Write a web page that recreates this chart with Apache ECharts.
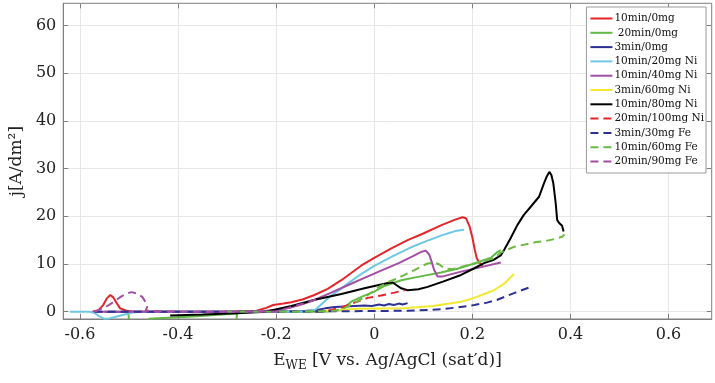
<!DOCTYPE html>
<html><head><meta charset="utf-8">
<script src="https://cdn.jsdelivr.net/npm/echarts@6/dist/echarts.min.js"></script>
<style>html,body{margin:0;padding:0;background:#fff}#c{width:715px;height:383px}</style>
</head><body><div id="c"></div>
<script>
// ---- tick labels ----
const xTicks = [-0.6, -0.4, -0.2, 0, 0.2, 0.4, 0.6];
const yTicks = [0, 10, 20, 30, 40, 50, 60];

// ---- series names ----
const names = ['10min/0mg', ' 20min/0mg', '3min/0mg', '10min/20mg Ni', '10min/40mg Ni', '3min/60mg Ni',
  '10min/80mg Ni', '20min/100mg Ni', '3min/30mg Fe', '10min/60mg Fe', '20min/90mg Fe'];

// ---- series values [E, j] (null = gap) ----
const red10_0 = [[-0.575,0],[-0.562,0.3],[-0.552,1.5],[-0.545,2.8],[-0.538,3.5],[-0.532,3.0],[-0.525,1.8],[-0.518,0.7],[-0.505,0.2],[-0.49,0],[-0.4,0],[-0.3,0],[-0.24,0.2],[-0.22,0.8],[-0.206,1.4],[-0.185,1.7],[-0.169,2.0],[-0.145,2.6],[-0.122,3.5],[-0.095,4.8],[-0.067,6.6],[-0.047,8.1],[-0.026,9.7],[0,11.3],[0.034,13.2],[0.068,15.0],[0.1,16.4],[0.136,18.1],[0.165,19.3],[0.18,19.8],[0.187,19.6],[0.194,18.0],[0.2,15.6],[0.205,13.0],[0.209,11.2],[0.214,10.3],[0.221,9.6]];
const green20_0 = [[-0.502,0],[-0.5,-1.5],null,[-0.46,-1.5],[-0.37,-1.0],[-0.28,-0.4],null,[-0.281,-1.5],[-0.279,0],[-0.2,0],[-0.1,0],[-0.067,0.35],[-0.047,2.1],[-0.026,3.1],[0.0,4.2],[0.021,5.4],[0.055,6.6],[0.089,7.3],[0.136,8.2],[0.17,9.0],[0.204,10.1],[0.238,11.3],[0.251,12.5],[0.258,12.9]];
const navy3_0 = [[-0.55,0],[-0.45,0],[-0.35,0],[-0.25,0],[-0.15,0.1],[-0.12,0.3],[-0.1,0.7],[-0.08,1.0],[-0.06,1.1],[-0.04,1.2],[-0.02,1.3],[-0.005,1.2],[0.01,1.5],[0.02,1.3],[0.03,1.6],[0.04,1.4],[0.05,1.7],[0.058,1.5],[0.068,1.8]];
const cyan10_20 = [[-0.62,0],[-0.58,0],[-0.57,-0.3],[-0.56,-1.0],[-0.55,-1.5],[-0.54,-1.4],[-0.525,-1.0],[-0.505,-0.5],[-0.49,-0.1],[-0.47,0],[-0.3,0],[-0.15,0],[-0.12,0.4],[-0.105,1.8],[-0.09,3.2],[-0.07,4.6],[-0.05,6.2],[-0.025,8.0],[0,9.6],[0.041,11.8],[0.075,13.5],[0.109,14.9],[0.143,16.2],[0.165,16.9],[0.183,17.2]];
const purple10_40 = [[-0.57,0],[-0.4,0],[-0.25,0],[-0.23,0.1],[-0.2,0.4],[-0.169,0.9],[-0.145,1.6],[-0.121,2.5],[-0.09,3.9],[-0.053,5.6],[-0.02,7.1],[0.014,8.6],[0.05,10.2],[0.08,11.7],[0.095,12.5],[0.105,12.8],[0.112,12.0],[0.117,10.5],[0.122,8.8],[0.129,7.4],[0.14,7.4],[0.177,8.4],[0.22,9.4],[0.258,10.3]];
const yellow3_60 = [[-0.1,0.2],[-0.03,0.6],[0.06,0.7],[0.12,1.2],[0.177,2.1],[0.204,2.9],[0.244,4.5],[0.265,5.9],[0.285,7.9]];
const black10_80 = [[-0.416,-0.8],[-0.35,-0.6],[-0.28,-0.3],[-0.22,0],[-0.206,0.35],[-0.169,1.2],[-0.121,2.5],[-0.067,3.7],[-0.02,4.9],[0.014,5.7],[0.028,6.0],[0.038,6.1],[0.045,5.6],[0.055,4.9],[0.068,4.5],[0.09,4.7],[0.109,5.2],[0.14,6.3],[0.177,7.7],[0.2,8.9],[0.224,10.2],[0.244,10.9],[0.258,11.8],[0.265,13.0],[0.278,15.4],[0.292,18.2],[0.305,20.3],[0.319,22.0],[0.336,24.1],[0.346,26.9],[0.352,28.4],[0.357,29.3],[0.361,28.7],[0.365,27.0],[0.37,22.7],[0.373,19.2],[0.377,18.6],[0.38,18.3],[0.383,18.0],[0.386,16.8]];
const red20_100 = [[-0.12,0],[-0.09,0.3],[-0.07,0.8],[-0.053,1.4],[-0.035,2.1],[-0.013,2.9],[0.014,3.4],[0.041,4.0],[0.062,4.5]];
const navy3_30 = [[-0.57,0],[-0.4,0],[-0.2,0],[-0.05,0.1],[0.068,0.2],[0.136,0.5],[0.17,0.9],[0.204,1.4],[0.23,1.9],[0.251,2.5],[0.285,3.9],[0.319,5.2]];
const green10_60 = [[-0.3,0],[-0.15,0],[-0.08,0.2],[-0.06,0.8],[-0.04,1.8],[-0.013,3.5],[0.01,5.2],[0.03,6.3],[0.048,7.0],[0.065,7.9],[0.082,8.7],[0.1,9.7],[0.109,10.1],[0.122,10.3],[0.133,9.9],[0.143,9.1],[0.16,8.9],[0.185,9.6],[0.204,10.1],[0.225,10.6],[0.244,11.2],[0.258,12.4],[0.271,13.0],[0.285,13.6],[0.312,14.2],[0.33,14.6],[0.353,14.9],[0.37,15.3],[0.383,15.7],[0.388,16.2]];
const purple20_90 = [[-0.571,0],[-0.558,0.5],[-0.547,1.0],[-0.532,2.0],[-0.517,3.1],[-0.505,3.8],[-0.495,4.1],[-0.483,3.8],[-0.473,3.1],[-0.466,2.0],[-0.463,1.0],[-0.466,0.2],[-0.47,0],[-0.4,0],[-0.3,0],[-0.2,0],[-0.19,0.4],[-0.175,0.8],[-0.155,1.4],[-0.135,2.0],[-0.121,2.5],[-0.108,2.8]];

const seriesData = [red10_0, green20_0, navy3_0, cyan10_20, purple10_40, yellow3_60, black10_80, red20_100, navy3_30, green10_60, purple20_90];
const colors = ['#e4252a','#62b946','#2e3192','#6ec8e4','#a24ea2','#f2e832','#000000','#e4252a','#2e3192','#6cb943','#a24ea2'];
const dashed = [false,false,false,false,false,false,false,true,true,true,true];

const X_MIN = -0.634, X_MAX = 0.688, Y_MIN = -1.53, Y_MAX = 64.65;
const FONT = 'DejaVu Serif';
const axisCol = '#7f7f7f', gridCol = '#e6e6e6';

const chart = echarts.init(document.getElementById('c'), null, {renderer: 'canvas'});
const series = seriesData.map((d, i) => ({
  name: names[i], type: 'line', symbol: 'none', showSymbol: false,
  data: d.map(p => p === null ? ['-', '-'] : p),
  connectNulls: false, animation: false,
  lineStyle: {color: colors[i], width: 2, type: dashed[i] ? [8, 5] : 'solid'},
  itemStyle: {color: colors[i]}
}));

chart.setOption({
  animation: false,
  backgroundColor: '#fff',
  grid: {left: 61, right: 3.3, top: 3.3, bottom: 64, show: true, borderColor: axisCol, borderWidth: 1, backgroundColor: 'transparent'},
  xAxis: [{
    type: 'value', min: X_MIN, max: X_MAX, position: 'bottom',
    axisLine: {show: true, onZero: false, lineStyle: {color: axisCol}},
    axisTick: {show: true, inside: true, length: 5, customValues: xTicks, lineStyle: {color: axisCol}},
    axisLabel: {customValues: xTicks, margin: 8, color: '#222', fontFamily: FONT, fontSize: 16,
      formatter: v => String(Math.round(v * 10) / 10)},
    splitLine: {show: true, lineStyle: {color: gridCol}},
    name: '{m|E}{s|WE}{m| [V vs. Ag/AgCl (sat\u2032d)]}', nameLocation: 'middle', nameGap: 31,
    nameTextStyle: {rich: {m: {fontFamily: FONT, fontSize: 17, color: '#222'}, s: {fontFamily: FONT, fontSize: 12, color: '#222', verticalAlign: 'bottom', padding: [10, 0, 0, 0]}}}
  }, {
    type: 'value', min: X_MIN, max: X_MAX, position: 'top',
    axisLine: {show: false, onZero: false}, axisLabel: {show: false}, splitLine: {show: false},
    axisTick: {show: true, inside: true, length: 5, customValues: xTicks, lineStyle: {color: axisCol}}
  }],
  yAxis: [{
    type: 'value', min: Y_MIN, max: Y_MAX, position: 'left',
    axisLine: {show: true, onZero: false, lineStyle: {color: axisCol}},
    axisTick: {show: true, inside: true, length: 5, customValues: yTicks, lineStyle: {color: axisCol}},
    axisLabel: {customValues: yTicks, margin: 7, color: '#222', fontFamily: FONT, fontSize: 16},
    splitLine: {show: true, lineStyle: {color: gridCol}},
    name: 'j[A/dm\u00b2]', nameLocation: 'middle', nameGap: 27, nameRotate: 90,
    nameTextStyle: {fontFamily: FONT, fontSize: 17, color: '#222'}
  }, {
    type: 'value', min: Y_MIN, max: Y_MAX, position: 'right',
    axisLine: {show: false, onZero: false}, axisLabel: {show: false}, splitLine: {show: false},
    axisTick: {show: true, inside: true, length: 5, customValues: yTicks, lineStyle: {color: axisCol}}
  }],
  legend: {
    orient: 'vertical', right: 9, top: 7, data: names,
    backgroundColor: '#fff', borderColor: '#9a9a9a', borderWidth: 1, borderRadius: 0,
    padding: [6, 2, 6, 3], itemWidth: 22, itemHeight: 12, itemGap: 3.3,
    itemStyle: {opacity: 0},
    textStyle: {fontFamily: FONT, fontSize: 10.5, color: '#111', padding: [0, 0, 0, -3]}
  },
  series: series
});
</script></body></html>
